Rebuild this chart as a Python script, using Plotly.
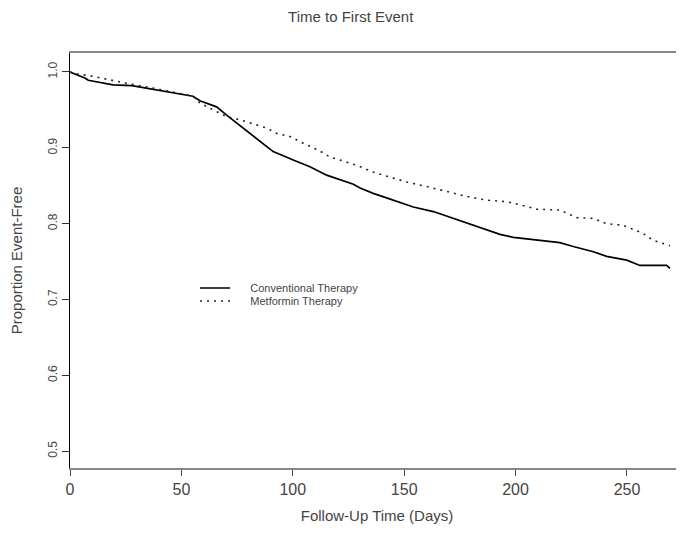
import plotly.graph_objects as go

# Conventional therapy (solid) curve: days, proportion event-free
conv_days = [0, 6.7, 8.2, 19.3, 27.7, 40.4, 55.2, 58.3, 65.8, 70.3, 77.8, 84.5, 91.2,
             100.2, 107.7, 115.2, 122.7, 127.2, 130.2, 136.1, 142.1, 154.1, 163.1, 172.0,
             181.0, 190.0, 193.0, 199.0, 209.5, 219.9, 225.9, 234.9, 240.9, 249.9,
             255.8, 267.8, 269.3]
conv_surv = [1.0, 0.992, 0.989, 0.983, 0.982, 0.976, 0.968, 0.962, 0.954, 0.943, 0.926,
             0.910, 0.895, 0.884, 0.875, 0.864, 0.857, 0.852, 0.847, 0.840, 0.834, 0.822,
             0.816, 0.807, 0.798, 0.789, 0.786, 0.782, 0.778, 0.775, 0.770, 0.763, 0.757,
             0.752, 0.745, 0.745, 0.741]

# Metformin therapy (dotted) curve
met_days = [0, 4.0, 9.0, 25.4, 40.4, 55.2, 58.3, 64.3, 70.3, 76.3, 82.3, 88.3, 92.8, 98.7,
            104.7, 111.4, 116.7, 122.7, 128.7, 136.1, 145.1, 151.1, 160.1, 169.1, 178.0,
            187.0, 196.0, 202.0, 209.5, 219.9, 227.4, 234.9, 240.9, 248.3, 252.8, 257.3,
            261.8, 269.3]
met_surv = [1.0, 0.997, 0.995, 0.985, 0.977, 0.968, 0.959, 0.950, 0.941, 0.937, 0.932,
            0.926, 0.919, 0.915, 0.906, 0.897, 0.888, 0.882, 0.877, 0.868, 0.860, 0.855,
            0.849, 0.842, 0.836, 0.831, 0.829, 0.825, 0.819, 0.818, 0.808, 0.807, 0.800,
            0.798, 0.792, 0.787, 0.778, 0.771]

x_ticks = [0, 50, 100, 150, 200, 250]
y_ticks = [0.5, 0.6, 0.7, 0.8, 0.9, 1.0]

font = "Liberation Sans, Arial, sans-serif"
grey = "#444444"
pad = "\u00a0" * 5

fig = go.Figure()
fig.add_trace(go.Scatter(x=conv_days, y=conv_surv, mode="lines",
                         line=dict(color="black", width=1.7),
                         name=pad + "Conventional Therapy", legend="legend"))
fig.add_trace(go.Scatter(x=met_days, y=met_surv, mode="lines",
                         line=dict(color="#222222", width=1.6, dash="2px,5px"),
                         name=pad + "Metformin Therapy", legend="legend2"))

leg_common = dict(xanchor="left", yanchor="middle", bgcolor="rgba(0,0,0,0)",
                  font=dict(family=font, size=11, color=grey))

fig.update_layout(
    width=676, height=526,
    paper_bgcolor="white", plot_bgcolor="white",
    margin=dict(l=62, r=0, t=45, b=66, autoexpand=False),
    title=dict(text="Time to First Event", x=0.507, xanchor="center", y=1 - 9 / 526,
               yanchor="middle", yref="container",
               font=dict(family=font, size=15, color=grey)),
    font=dict(family=font, color=grey),
    showlegend=True,
    legend=dict(x=0.2036, y=0.4337, **leg_common),
    legend2=dict(x=0.2036, y=0.4024, **leg_common),
    xaxis=dict(range=[0, 275.6], tickvals=x_ticks, ticktext=[str(t) for t in x_ticks],
               showgrid=False, zeroline=False, showline=True, linecolor="#888888",
               linewidth=1.5, mirror=True, ticks="outside", ticklen=6, tickcolor="#444444",
               automargin=False,
               tickfont=dict(family=font, size=16, color=grey),
               title=dict(text="Follow-Up Time (Days)", standoff=14,
                          font=dict(family=font, size=15, color=grey))),
    yaxis=dict(range=[0.478, 1.025], tickvals=y_ticks, ticktext=[f"{t:.1f}" for t in y_ticks],
               showgrid=False, zeroline=False, showline=True, linecolor="black",
               linewidth=1.2, ticks="outside", ticklen=7, tickcolor="#333333",
               automargin=False,
               tickangle=-90, tickfont=dict(family=font, size=12, color=grey),
               title=dict(text="Proportion Event-Free", standoff=20,
                          font=dict(family=font, size=15, color=grey))),
)

fig.write_html("out.html")
